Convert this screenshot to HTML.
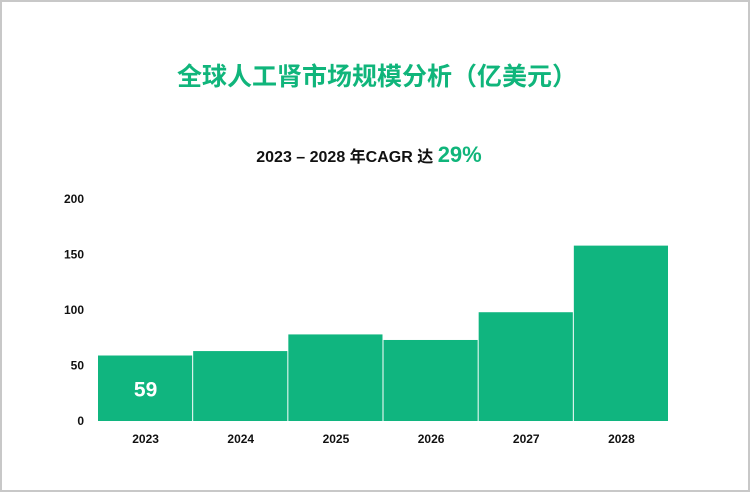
<!DOCTYPE html>
<html><head><meta charset="utf-8"><style>
body{margin:0;background:#fff;}
#wrap{position:relative;width:750px;height:492px;box-sizing:border-box;border:2px solid #c8c8c8;background:#fff;font-family:"Liberation Sans","Noto Sans CJK SC",sans-serif;overflow:hidden}
#title{position:absolute;left:0;width:750px;top:55px;text-align:center;font-size:25px;font-weight:bold;color:#10b57b;font-family:"Noto Sans CJK SC",sans-serif}
#sub{position:absolute;left:-8px;width:750px;top:140px;text-align:center;font-size:16px;font-weight:bold;color:#111;font-family:"Liberation Sans","Noto Sans CJK SC",sans-serif}
#sub span{color:#10b57b;font-size:22px}
svg{position:absolute;left:0;top:0}
</style></head><body>
<div id="wrap">
<div id="title">全球人工肾市场规模分析（亿美元）</div>
<div id="sub">2023 – 2028 年CAGR 达 <span>29%</span></div>
<svg id="chart" width="746" height="488"></svg>
</div>
<script>
const categories=["2023","2024","2025","2026","2027","2028"];
const values=[59,63,78,73,98,158];
const yTicks=[0,50,100,150,200];
const labelIndex=0;
const svg=document.getElementById('chart');
const NS='http://www.w3.org/2000/svg';
// coordinates within svg (offset by 2px border)
const x0=96,plotW=571,y0=419,pxPerUnit=222/200;
function yScale(v){return y0-v*pxPerUnit;}
const bw=plotW/categories.length;
function xScale(i){return x0+i*bw;}
yTicks.forEach(t=>{
  const tx=document.createElementNS(NS,'text');
  tx.setAttribute('x',82);tx.setAttribute('y',yScale(t)+4);
  tx.setAttribute('text-anchor','end');tx.setAttribute('font-size','12');tx.setAttribute('font-weight','bold');
  tx.setAttribute('font-family','Liberation Sans, sans-serif');tx.setAttribute('fill','#111');
  tx.textContent=t;
  
  
  svg.appendChild(tx);
});
categories.forEach((c,i)=>{
  const r=document.createElementNS(NS,'rect');
  r.setAttribute('x',xScale(i));r.setAttribute('y',yScale(values[i]));
  r.setAttribute('width',bw-1);r.setAttribute('height',y0-yScale(values[i]));
  r.setAttribute('fill','#10b57f');
  
  
  svg.appendChild(r);
  const tx=document.createElementNS(NS,'text');
  tx.setAttribute('x',xScale(i)+bw/2);tx.setAttribute('y',y0+22);
  tx.setAttribute('text-anchor','middle');tx.setAttribute('font-size','12');tx.setAttribute('font-weight','bold');
  tx.setAttribute('font-family','Liberation Sans, sans-serif');tx.setAttribute('fill','#111');
  tx.textContent=c;
  
  
  svg.appendChild(tx);
});
const lb=document.createElementNS(NS,'text');
lb.setAttribute('x',xScale(labelIndex)+bw/2);lb.setAttribute('y',(yScale(values[labelIndex])+y0)/2+8);
lb.setAttribute('text-anchor','middle');lb.setAttribute('font-size','21');lb.setAttribute('font-weight','bold');
lb.setAttribute('font-family','Liberation Sans, sans-serif');lb.setAttribute('fill','#fff');
lb.textContent=values[labelIndex];


svg.appendChild(lb);
</script>
</body></html>
